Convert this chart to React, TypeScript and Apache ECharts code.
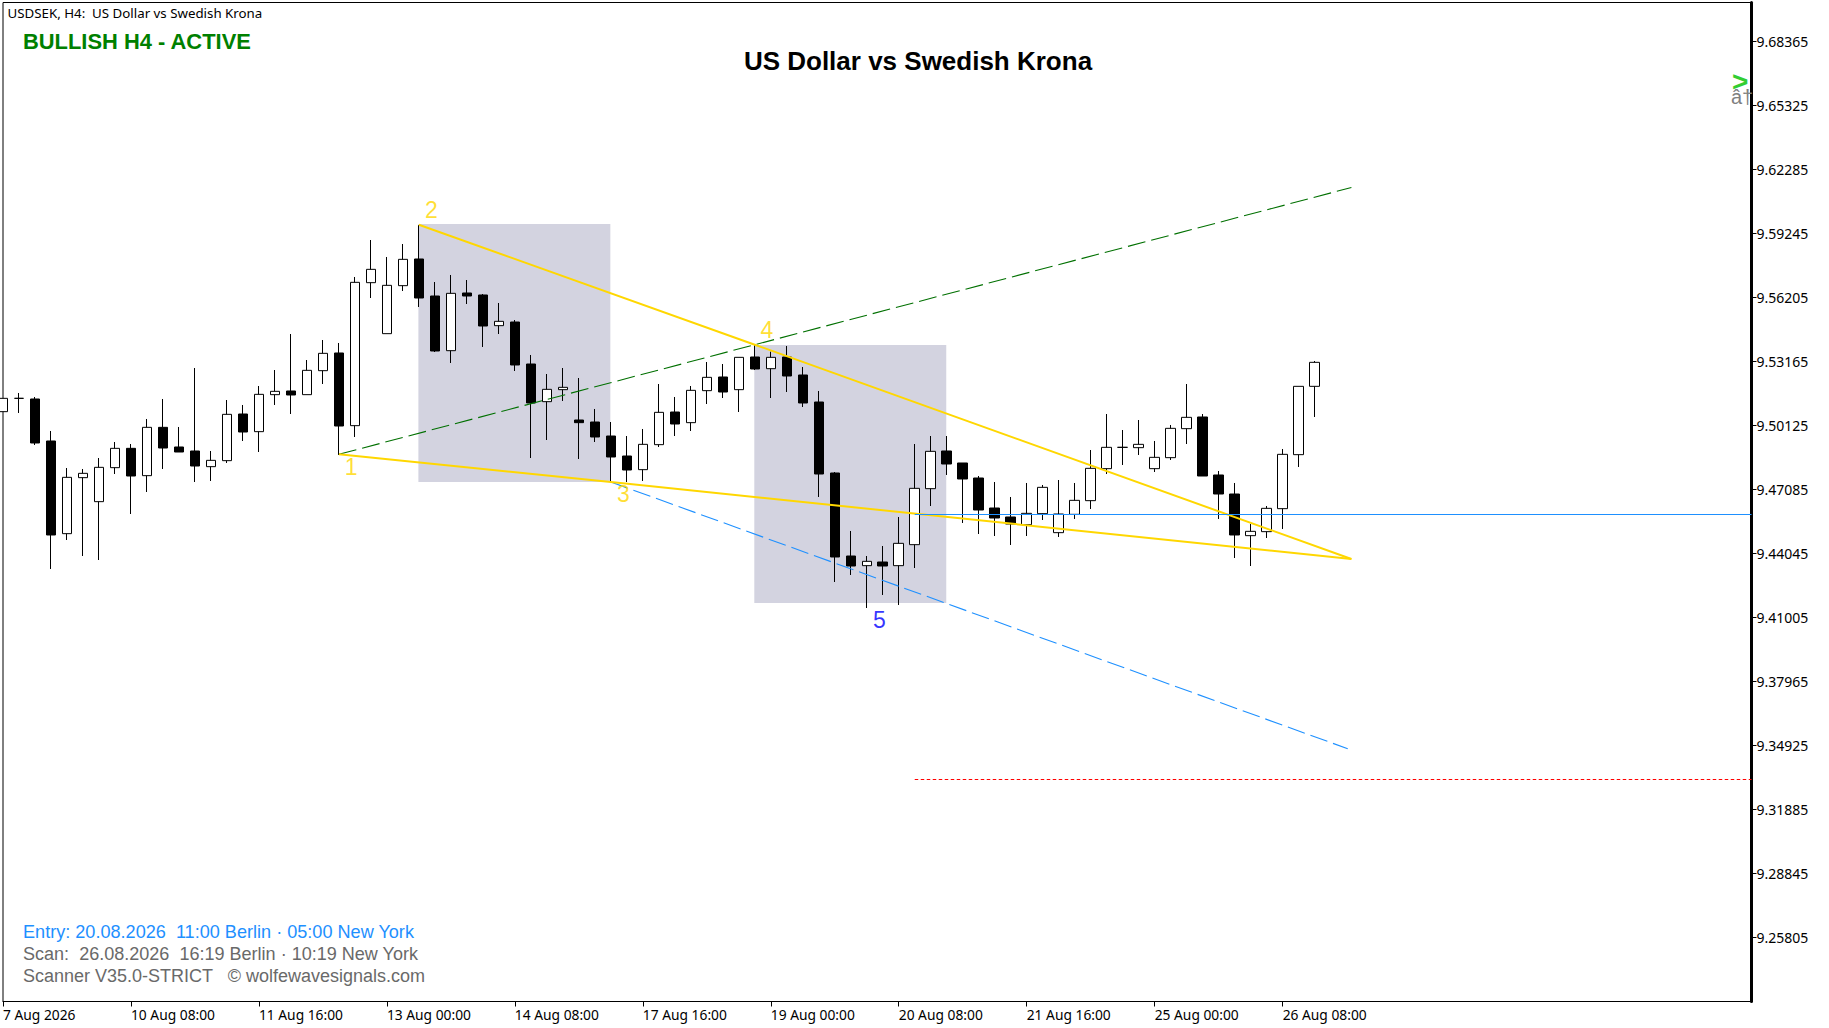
import React, { useEffect, useRef } from "react";
import * as echarts from "echarts";

const opens = [9.50782,9.51415,9.51384,9.49389,9.44987,9.47647,9.46507,9.48122,9.49040,9.47742,9.50038,9.49104,9.48914,9.48170,9.48455,9.50671,9.49832,9.51590,9.51764,9.51590,9.52729,9.53569,9.50117,9.56909,9.54487,9.56767,9.58034,9.56276,9.53679,9.56419,9.56324,9.54867,9.55041,9.53046,9.51257,9.51827,9.50386,9.50291,9.49626,9.48676,9.48027,9.49215,9.50766,9.50260,9.51780,9.52429,9.51827,9.53379,9.52824,9.53379,9.52524,9.51241,9.47869,9.43926,9.43467,9.43641,9.43467,9.44465,9.47125,9.48914,9.48344,9.47631,9.46206,9.45779,9.45415,9.45937,9.45035,9.45905,9.46555,9.48075,9.49088,9.49072,9.48075,9.48597,9.49975,9.50529,9.47774,9.46871,9.44892,9.45082,9.46175,9.48740,9.51985];
const closes = [9.51415,9.51415,9.49294,9.44924,9.47663,9.47853,9.48138,9.49040,9.47726,9.50038,9.49056,9.48866,9.48201,9.48470,9.50655,9.49816,9.51605,9.51748,9.51574,9.52745,9.53553,9.50101,9.56925,9.57543,9.56783,9.58018,9.56181,9.53664,9.56403,9.56276,9.54851,9.55073,9.52999,9.51194,9.51843,9.51938,9.50260,9.49579,9.48629,9.48011,9.49230,9.50750,9.50196,9.51795,9.52413,9.51716,9.53363,9.52809,9.53363,9.52476,9.51194,9.47821,9.43879,9.43451,9.43673,9.43451,9.44528,9.47140,9.48898,9.48296,9.47584,9.46111,9.45731,9.45446,9.45953,9.47188,9.45921,9.46570,9.48090,9.49088,9.49088,9.49230,9.48613,9.49990,9.50513,9.47726,9.46871,9.44924,9.45098,9.46190,9.48755,9.51985,9.53125];
const lows = [9.50782,9.50719,9.49199,9.43309,9.44686,9.43926,9.43736,9.47821,9.45921,9.46966,9.48059,9.48866,9.47441,9.47489,9.48344,9.49389,9.48866,9.51099,9.50671,9.51590,9.52096,9.48724,9.49579,9.56181,9.54487,9.56514,9.55754,9.53616,9.53094,9.55896,9.53854,9.54471,9.52714,9.48581,9.49436,9.51289,9.48534,9.49341,9.47441,9.47441,9.47489,9.49104,9.49626,9.49864,9.51146,9.51431,9.50766,9.52761,9.51431,9.51716,9.51004,9.46729,9.42691,9.43024,9.41456,9.42074,9.41599,9.43356,9.46301,9.47774,9.45494,9.44971,9.44876,9.44449,9.44876,9.45636,9.44829,9.45684,9.46159,9.47821,9.48249,9.48724,9.47916,9.48486,9.49246,9.47726,9.45684,9.43831,9.43451,9.44781,9.45209,9.48154,9.50529];
const highs = [9.51415,9.51669,9.51479,9.49864,9.48106,9.48059,9.48581,9.49341,9.49246,9.50434,9.51384,9.50054,9.52856,9.48914,9.51336,9.51099,9.52001,9.52761,9.54471,9.53236,9.54186,9.54044,9.57179,9.58936,9.58129,9.58746,9.59649,9.56941,9.57274,9.57036,9.56371,9.55944,9.55136,9.53474,9.52571,9.52856,9.52381,9.50909,9.50291,9.49626,9.49959,9.52096,9.51479,9.52001,9.53141,9.53046,9.53363,9.53949,9.53632,9.53901,9.52904,9.51764,9.47916,9.45114,9.43926,9.44401,9.45779,9.49246,9.49626,9.49626,9.48344,9.47726,9.47441,9.46729,9.47394,9.47299,9.47536,9.47394,9.48961,9.50671,9.49911,9.50386,9.49389,9.50149,9.52096,9.50671,9.47964,9.47394,9.45446,9.46301,9.49009,9.51985,9.53189];

const priceTicks = [9.25805,9.28845,9.31885,9.34925,9.37965,9.41005,9.44045,9.47085,9.50125,9.53165,9.56205,9.59245,9.62285,9.65325,9.68365];
const timeTickBars = [0,8,16,24,32,40,48,56,64,72,80];
const timeTickLabels = ["7 Aug 2026","10 Aug 08:00","11 Aug 16:00","13 Aug 00:00","14 Aug 08:00","17 Aug 16:00","19 Aug 00:00","20 Aug 08:00","21 Aug 16:00","25 Aug 00:00","26 Aug 08:00"];

const yellowLower: number[][] = [[21,9.48757],[38,9.47441],[84.3,9.43783]];
const yellowUpper: number[][] = [[26,9.59663],[47,9.53963],[84.3,9.43783]];
const greenLine: number[][] = [[21,9.48757],[84.3,9.6143]];
const blueLine: number[][] = [[38,9.47441],[84.07,9.34773]];
const ENTRY_BAR = 57;
const entryPrice = 9.45897;
const stopPrice = 9.3331;
const boxOne = { from: 25.97, to: 37.97, top: 9.59696, bottom: 9.47441 };
const boxTwo = { from: 46.97, to: 58.97, top: 9.53949, bottom: 9.41693 };
const waveNames = ["1","2","3","4","5"];
const waveBars = [21.77,26.78,38.79,47.76,54.79];
const wavePrices = [9.48177,9.60361,9.46871,9.54661,9.40886];
const waveColors = ["#FFD700","#FFD700","#FFD700","#FFD700","#0000FF"];

const X_MAX = 109.3125;
const Y_MIN = 9.22765;
const Y_MAX = 9.702175;
const AXIS_FONT = '"Noto Sans"';
const ARIAL = '"Liberation Sans"';

function text(x: number, y: number, str: string, font: string, fill: string) {
  return { type: "text", x, y, z: 100, silent: true, style: { text: str, font, fill, textAlign: "left", textVerticalAlign: "middle" } };
}

export default function App() {
  const ref = useRef<HTMLDivElement>(null);
  useEffect(() => {
    const chart = echarts.init(ref.current!, undefined, { renderer: "svg" });
    const candle = opens.map((o, i) => [i, o, closes[i], lows[i], highs[i]]);
    const lineSeries = (data: number[][], color: string, width: number, type: any, z = 5) => ({
      type: "line", data, showSymbol: false, symbol: "none", silent: true, z,
      lineStyle: { color, width, type, cap: "butt" },
    });
    chart.setOption({
      animation: false,
      backgroundColor: "#fff",
      title: {
        text: "US Dollar vs Swedish Krona", left: 913, top: 43, textAlign: "center",
        textStyle: { fontFamily: ARIAL, fontWeight: "bold", fontSize: 26, color: "#000" },
      },
      grid: { left: 2.5, top: 2.5, width: 1749, height: 999, show: true, borderColor: "#000", borderWidth: 1, backgroundColor: "#fff", containLabel: false },
      xAxis: {
        type: "value", min: 0, max: X_MAX, splitLine: { show: false },
        axisLine: { show: true, onZero: false, lineStyle: { color: "#000", width: 1 } },
        axisTick: { show: true, length: 5, customValues: timeTickBars, lineStyle: { color: "#000", width: 1 } },
        axisLabel: {
          show: true, customValues: timeTickBars, align: "left", margin: 6, color: "#000",
          fontFamily: AXIS_FONT, fontSize: 13.8, hideOverlap: false,
          formatter: (v: number) => timeTickLabels[timeTickBars.indexOf(v)] ?? "",
        },
      },
      yAxis: {
        type: "value", position: "right", min: Y_MIN, max: Y_MAX, splitLine: { show: false },
        axisLine: { show: true, onZero: false, lineStyle: { color: "#000", width: 3 } },
        axisTick: { show: true, length: 5, customValues: priceTicks, lineStyle: { color: "#000", width: 1 } },
        axisLabel: {
          show: true, customValues: priceTicks, margin: 5, color: "#000",
          fontFamily: AXIS_FONT, fontSize: 14, hideOverlap: false,
          formatter: (v: number) => v.toFixed(5),
        },
      },
      series: [
        {
          type: "candlestick", data: candle, barWidth: 10, silent: true, z: 2,
          encode: { x: 0, y: [1, 2, 3, 4] },
          itemStyle: { color: "#fff", color0: "#000", borderColor: "#000", borderColor0: "#000", borderWidth: 1 },
          markArea: {
            silent: true, z: 1,
            itemStyle: { color: "#D3D3E0", opacity: 1, borderWidth: 0 },
            data: [boxOne, boxTwo].map((b) => [{ xAxis: b.from, yAxis: b.top }, { xAxis: b.to, yAxis: b.bottom }]),
          },
        },
        lineSeries(greenLine, "#007000", 1.1, [18, 6]),
        lineSeries(blueLine, "#1E90FF", 1.1, [18, 6]),
        lineSeries(yellowLower, "#FFD700", 2, "solid", 6),
        lineSeries(yellowUpper, "#FFD700", 2, "solid", 6),
        lineSeries([[ENTRY_BAR, entryPrice], [X_MAX, entryPrice]], "#1E90FF", 1, "solid", 7),
        lineSeries([[ENTRY_BAR, stopPrice], [X_MAX, stopPrice]], "#FF0000", 1, [3.5, 2.5], 7),
        {
          type: "scatter", silent: true, z: 8, symbol: "circle", symbolSize: 1,
          itemStyle: { color: "transparent" },
          data: waveNames.map((n, i) => ({
            value: [waveBars[i], wavePrices[i]],
            label: { show: true, position: "inside", formatter: n, color: waveColors[i], fontFamily: ARIAL, fontSize: 23, align: "center", verticalAlign: "middle" },
          })),
        },
      ],
      graphic: [
        text(7.5, 13, "USDSEK, H4:  US Dollar vs Swedish Krona", `13.3px ${AXIS_FONT}`, "#000"),
        text(23, 41.7, "BULLISH H4 - ACTIVE", `bold 21.9px ${ARIAL}`, "#008000"),
        text(23, 932, "Entry: 20.08.2026  11:00 Berlin · 05:00 New York", `18.1px ${ARIAL}`, "#1E90FF"),
        text(23, 954, "Scan:  26.08.2026  16:19 Berlin · 10:19 New York", `18.05px ${ARIAL}`, "#696969"),
        text(23, 976, "Scanner V35.0-STRICT   © wolfewavesignals.com", `18px ${ARIAL}`, "#696969"),
        text(1732, 81, ">", `bold 28px ${ARIAL}`, "#32CD32"),
        text(1731, 97, "â†", `20px ${ARIAL}`, "#808080"),
      ],
    });
    return () => chart.dispose();
  }, []);
  return <div ref={ref} style={{ position: "absolute", left: 0, top: 0, width: 1829, height: 1028, background: "#fff" }} />;
}
